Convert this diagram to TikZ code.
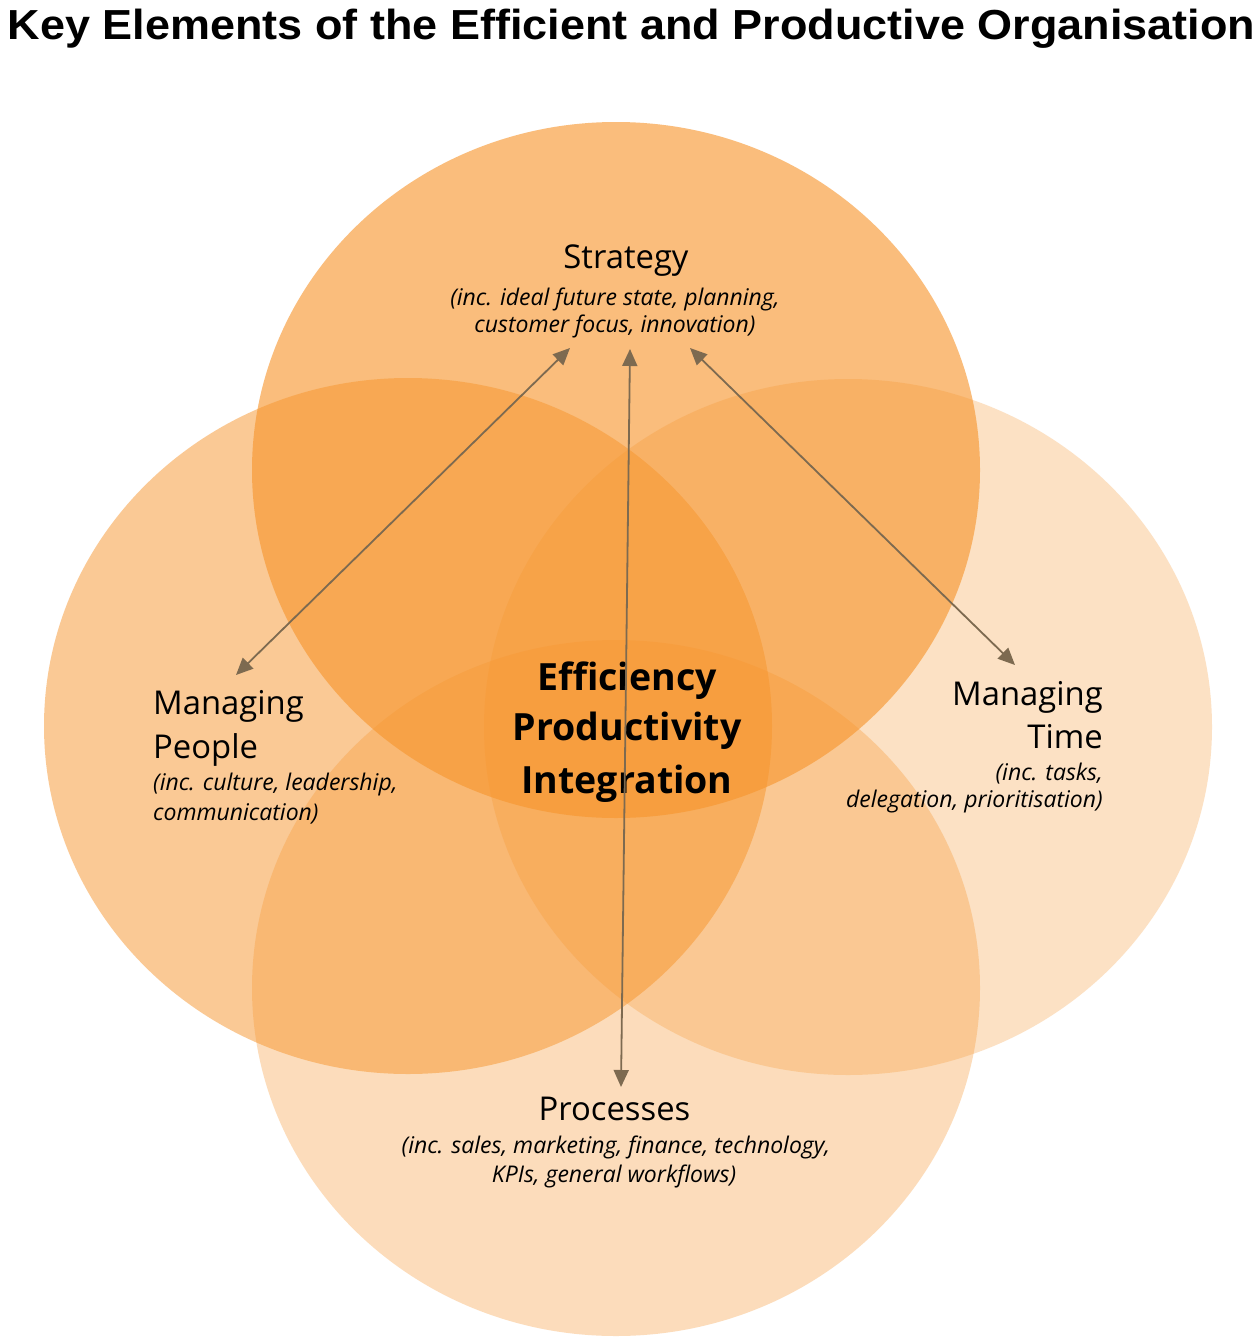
\documentclass[tikz,border=0pt]{standalone}
\usepackage{fontspec}
\setmainfont{Open Sans}
\newfontfamily\titlefont{Liberation Sans}
\usepackage{graphicx}
\usetikzlibrary{arrows.meta,shapes.geometric}
\definecolor{orng}{HTML}{F7952C}
\definecolor{arrowc}{HTML}{7D6A50}
\begin{document}
\begin{tikzpicture}[x=1pt,y=-1pt,
  venn/.style={ellipse, minimum width=728pt, minimum height=696pt, inner sep=0pt, draw=none, fill=orng},
  lbl/.style={inner sep=0pt, text=black},
  headtxt/.style={lbl, font=\fontsize{32.8}{38}\selectfont},
  subtxt/.style={lbl, font=\fontsize{23}{27}\selectfont\itshape},
  coretxt/.style={lbl, anchor=base, font=\fontsize{37.5}{44}\selectfont\bfseries},
  dblarrow/.style={draw=arrowc, line width=1.8pt, {Triangle[length=17pt,width=15pt]}-{Triangle[length=17pt,width=15pt]}}
]
\useasboundingbox (0,0) rectangle (1260,1338);
\fill[white] (0,0) rectangle (1260,1338);

% circles
\node[venn, fill opacity=0.50] (people) at (408,726) {};
\node[venn, fill opacity=0.28] (time) at (848,727) {};
\node[venn, fill opacity=0.32] (proc) at (616,988) {};
\node[venn, fill opacity=0.62] (strat) at (616,470) {};

% title
\node[lbl, anchor=base] (title) at (631.5,40) {\resizebox{1247pt}{\height}{\titlefont\fontsize{42}{48}\selectfont\bfseries Key Elements of the Efficient and Productive Organisation}};

% strategy
\node[headtxt, anchor=base] (stratA) at (626,268) {Strategy};
\node[subtxt, anchor=base] (stratB) at (615,305) {(inc. ideal future state, planning,};
\node[subtxt, anchor=base] (stratC) at (615,332) {customer focus, innovation)};

% managing people
\node[headtxt, anchor=base west] (peopA) at (153,714) {Managing};
\node[headtxt, anchor=base west] (peopB) at (153,758) {People};
\node[subtxt, anchor=base west] (peopC) at (153,790) {(inc. culture, leadership,};
\node[subtxt, anchor=base west] (peopD) at (153,820) {communication)};

% managing time
\node[headtxt, anchor=base east] (timeA) at (1103,705) {Managing};
\node[headtxt, anchor=base east] (timeB) at (1103,748) {Time};
\node[subtxt, anchor=base east] (timeC) at (1103,780) {(inc. tasks,};
\node[subtxt, anchor=base east] (timeD) at (1103,807) {delegation, prioritisation)};

% processes
\node[headtxt, anchor=base] (procA) at (614.5,1120) {Processes};
\node[subtxt, anchor=base] (procB) at (616,1153) {(inc. sales, marketing, finance, technology,};
\node[subtxt, anchor=base] (procC) at (614,1182) {KPIs, general workflows)};

% core
\node[coretxt] (coreA) at (627,690) {Efficiency};
\node[coretxt] (coreB) at (627,740) {Productivity};
\node[coretxt] (coreC) at (627,793) {Integration};

% arrow ends
\coordinate (s1) at (570,348);
\coordinate (s2) at (630,349);
\coordinate (s3) at (690,348);
\coordinate (p1) at (236,675);
\coordinate (r1) at (621,1087);
\coordinate (t1) at (1015,665);

\draw[dblarrow] (s1) -- (p1);
\draw[dblarrow] (s2) -- (r1);
\draw[dblarrow] (s3) -- (t1);
\end{tikzpicture}
\end{document}
